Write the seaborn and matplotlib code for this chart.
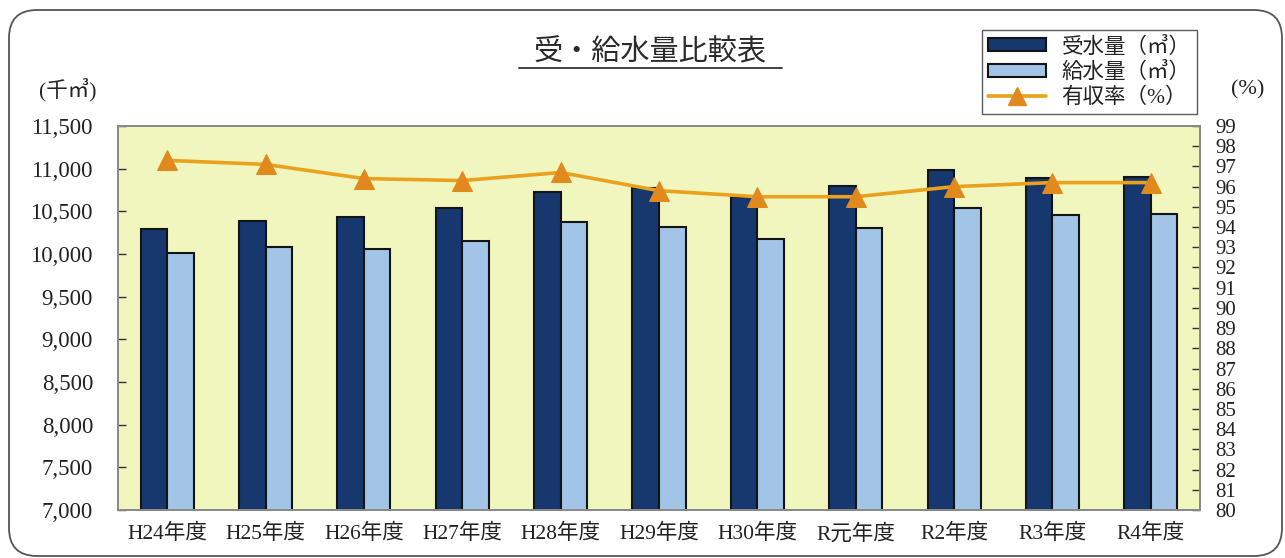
import numpy as np
import pandas as pd
import matplotlib
matplotlib.use("Agg")
import matplotlib.pyplot as plt
from matplotlib.patches import FancyBboxPatch, Patch
from matplotlib.lines import Line2D
from matplotlib.ticker import FuncFormatter, MultipleLocator
import seaborn as sns

# Fiscal years
years = ["H24年度", "H25年度", "H26年度", "H27年度", "H28年度", "H29年度",
         "H30年度", "R元年度", "R2年度", "R3年度", "R4年度"]
# Water received (thousand m3)
received = [10298, 10381, 10428, 10542, 10726, 10770, 10664, 10797, 10985, 10888, 10903]
# Water supplied (thousand m3)
supplied = [10016, 10085, 10055, 10157, 10372, 10314, 10180, 10306, 10542, 10455, 10472]
# Revenue water ratio (%)
rate = [97.3, 97.1, 96.4, 96.3, 96.7, 95.8, 95.5, 95.5, 96.0, 96.2, 96.2]

series_names = ["受水量（㎥）", "給水量（㎥）"]
rate_name = "有収率（%）"

sns.set_theme(style="white")
plt.rcParams["font.family"] = ["Liberation Serif", "Noto Sans CJK JP", "DejaVu Sans"]

DARK = "#16386E"
LIGHT = "#A2C5E7"
BG = "#F0F6BE"
ORANGE_LINE = "#E9A11E"
ORANGE_MARK = "#E2891E"
FRAME = "#555555"
EDGE = "#141414"

df = pd.DataFrame({
    "year": years * 2,
    "value": received + supplied,
    "kind": [series_names[0]] * len(years) + [series_names[1]] * len(years),
})

W, H = 1285, 558
fig = plt.figure(figsize=(W / 100, H / 100), dpi=100)
fig.patch.set_facecolor("white")

# background layer in pixel units holding the rounded outer frame
bg = fig.add_axes([0, 0, 1, 1], zorder=-10)
bg.set_xlim(0, W)
bg.set_ylim(0, H)
bg.axis("off")
bg.add_patch(FancyBboxPatch((9, 2), 1273, 546,
                            boxstyle="round,pad=0,rounding_size=28",
                            facecolor="white", edgecolor=FRAME, linewidth=1.3))

ax = fig.add_axes([118 / W, 48 / H, (1200 - 118) / W, (510 - 126) / H])
ax.set_facecolor(BG)

sns.barplot(data=df, x="year", y="value", hue="kind", order=years,
            hue_order=series_names, palette=[DARK, LIGHT], width=0.54,
            edgecolor=EDGE, linewidth=1.5, saturation=1, ax=ax,
            legend=False)

ax.set_ylim(7000, 11500)
ax.yaxis.set_major_locator(MultipleLocator(500))
ax.yaxis.set_major_formatter(FuncFormatter(lambda v, p: f"{int(v):,}"))
ax.set_xlim(-0.5, len(years) - 0.5)
ax.set_xlabel("")
ax.set_ylabel("")
ax.tick_params(axis="y", direction="in", length=6, width=1.0, color="#333333",
               labelsize=16.5, pad=18, labelcolor="#222222")
ax.tick_params(axis="x", length=0, labelsize=15.5, pad=10, labelcolor="#222222")
for s in ax.spines.values():
    s.set_color("#8a8a8a")
    s.set_linewidth(1.4)

ax2 = ax.twinx()
sns.lineplot(x=np.arange(len(years)), y=rate, ax=ax2, color=ORANGE_LINE,
             linewidth=2.6, marker="^", markersize=15, markerfacecolor=ORANGE_MARK,
             markeredgecolor=ORANGE_MARK, legend=False)
ax2.set_ylim(80, 99)
ax2.yaxis.set_major_locator(MultipleLocator(1))
ax2.set_ylabel("")
ax2.tick_params(axis="y", direction="in", length=6, width=1.0, color="#333333",
                labelsize=15, pad=11, labelcolor="#222222")
for s in ax2.spines.values():
    s.set_color("#8a8a8a")
    s.set_linewidth(1.4)
ax2.grid(False)
ax.grid(False)

# title with underline
fig.text(650 / W, 1 - 52 / H, "受・給水量比較表", ha="center", va="center",
         fontsize=21, color="#2a2a2a", family=["Noto Sans CJK JP"])
fig.add_artist(Line2D([519 / W, 782 / W], [1 - 68 / H, 1 - 68 / H],
                      color="#333333", linewidth=1.3, transform=fig.transFigure))

# unit labels
fig.text(68 / W, 1 - 90 / H, "(千㎥)", ha="center", va="center",
         fontsize=15.5, color="#222222")
fig.text(1248 / W, 1 - 90 / H, "(%)", ha="center", va="center",
         fontsize=16, color="#222222")

# legend
handles = [
    Patch(facecolor=DARK, edgecolor=EDGE, linewidth=1.5),
    Patch(facecolor=LIGHT, edgecolor=EDGE, linewidth=1.5),
    Line2D([], [], color=ORANGE_LINE, linewidth=2.6, marker="^", markersize=13,
           markerfacecolor=ORANGE_MARK, markeredgecolor=ORANGE_MARK),
]
leg = fig.legend(handles, series_names + [rate_name], loc="upper right",
                 bbox_to_anchor=(1197 / W, 1 - 30 / H), frameon=True,
                 fancybox=False, fontsize=15.5, handlelength=2.7, handleheight=0.55,
                 labelspacing=0.2, borderpad=0.3, handletextpad=0.7,
                 borderaxespad=0)
leg.get_frame().set_edgecolor("#333333")
leg.get_frame().set_linewidth(1.0)
for t in leg.get_texts():
    t.set_color("#222222")

fig.savefig("out.png", dpi=100, facecolor="white")
